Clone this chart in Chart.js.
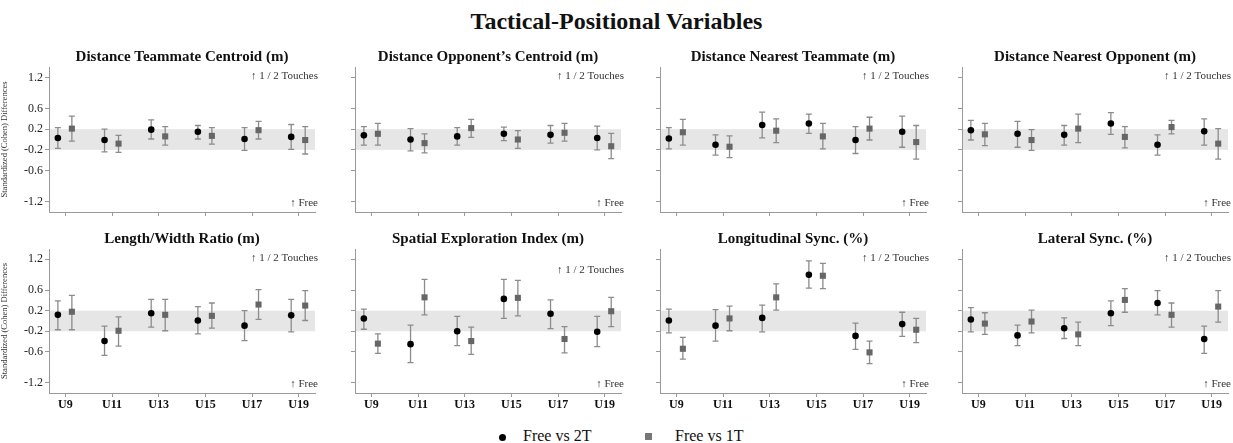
<!DOCTYPE html>
<html>
<head>
<meta charset="utf-8">
<script src="https://cdn.jsdelivr.net/npm/chart.js@4.4.1/dist/chart.umd.min.js"></script>
<style>
  html, body { margin:0; padding:0; background:#fff; }
  body { width:1233px; height:443px; position:relative; overflow:hidden; font-family:"Liberation Serif","Times New Roman",serif; }
  #title { position:absolute; left:0; width:1233px; top:6px; text-align:center; font-weight:bold; font-size:24px; color:#111; line-height:30px; }
  .pc { position:absolute; }
  #legend { position:absolute; top:426px; left:0; width:1233px; height:20px; font-size:16px; color:#111; }
  .lg { position:absolute; top:0; line-height:20px; }
  .dot { position:absolute; width:7px; height:7px; border-radius:50%; background:#000; }
  .sq { position:absolute; width:7px; height:7px; background:#777; }
</style>
</head>
<body>
<div id="title">Tactical-Positional Variables</div>
<div id="legend">
  <span class="dot" style="left:499px; top:8px;"></span><span class="lg" style="left:523px;">Free vs 2T</span>
  <span class="sq" style="left:645px; top:7px;"></span><span class="lg" style="left:675px;">Free vs 1T</span>
</div>
<script>
// ---- Data: [mean, lower, upper] for each age category ----
const categories = ["U9","U11","U13","U15","U17","U19"];
const yTickValues = [-1.2,-0.6,-0.2,0.2,0.6,1.2];
const panelTitles = ["Distance Teammate Centroid (m)","Distance Opponent’s Centroid (m)","Distance Nearest Teammate (m)","Distance Nearest Opponent (m)",
                     "Length/Width Ratio (m)","Spatial Exploration Index (m)","Longitudinal Sync. (%)","Lateral Sync. (%)"];
const seriesNames = ["Free vs 2T","Free vs 1T"];

const teammateCentroid2T = [[0.03,-0.17,0.23],[-0.01,-0.24,0.20],[0.19,0.01,0.38],[0.15,0.01,0.27],[0.01,-0.21,0.23],[0.05,-0.19,0.29]];
const teammateCentroid1T = [[0.21,-0.03,0.45],[-0.08,-0.25,0.08],[0.06,-0.11,0.25],[0.07,-0.09,0.23],[0.18,0.01,0.35],[-0.01,-0.28,0.25]];
const opponentCentroid2T = [[0.08,-0.11,0.25],[0.00,-0.22,0.21],[0.06,-0.11,0.23],[0.11,-0.02,0.24],[0.09,-0.07,0.27],[0.03,-0.20,0.26]];
const opponentCentroid1T = [[0.11,-0.11,0.31],[-0.07,-0.26,0.11],[0.22,0.04,0.39],[0.00,-0.17,0.17],[0.13,-0.03,0.31],[-0.13,-0.37,0.12]];
const nearestTeammate2T = [[0.02,-0.18,0.23],[-0.10,-0.30,0.09],[0.28,0.03,0.53],[0.31,0.12,0.49],[-0.01,-0.27,0.25],[0.15,-0.15,0.45]];
const nearestTeammate1T = [[0.14,-0.11,0.39],[-0.14,-0.35,0.07],[0.17,-0.06,0.40],[0.06,-0.18,0.31],[0.21,-0.01,0.43],[-0.05,-0.38,0.27]];
const nearestOpponent2T = [[0.18,-0.01,0.37],[0.11,-0.15,0.35],[0.09,-0.11,0.27],[0.31,0.10,0.52],[-0.10,-0.30,0.09],[0.16,-0.11,0.40]];
const nearestOpponent1T = [[0.10,-0.12,0.31],[-0.01,-0.21,0.19],[0.21,-0.06,0.49],[0.05,-0.16,0.25],[0.24,0.11,0.37],[-0.08,-0.38,0.21]];
const lengthWidth2T = [[0.12,-0.17,0.39],[-0.39,-0.67,-0.10],[0.15,-0.12,0.42],[0.01,-0.25,0.28],[-0.09,-0.38,0.20],[0.11,-0.21,0.42]];
const lengthWidth1T = [[0.18,-0.17,0.50],[-0.19,-0.49,0.08],[0.12,-0.19,0.42],[0.10,-0.14,0.35],[0.32,0.03,0.61],[0.30,0.01,0.59]];
const spatialExploration2T = [[0.05,-0.16,0.23],[-0.45,-0.81,-0.08],[-0.20,-0.48,0.09],[0.43,0.05,0.81],[0.14,-0.15,0.41],[-0.21,-0.50,0.09]];
const spatialExploration1T = [[-0.44,-0.63,-0.25],[0.46,0.12,0.81],[-0.39,-0.65,-0.12],[0.45,0.10,0.79],[-0.35,-0.62,-0.11],[0.19,-0.11,0.46]];
const longitudinalSync2T = [[0.01,-0.23,0.23],[-0.09,-0.39,0.22],[0.06,-0.21,0.31],[0.90,0.64,1.17],[-0.29,-0.55,-0.04],[-0.06,-0.30,0.17]];
const longitudinalSync1T = [[-0.54,-0.74,-0.32],[0.05,-0.19,0.29],[0.46,0.21,0.72],[0.88,0.63,1.12],[-0.61,-0.83,-0.39],[-0.17,-0.42,0.05]];
const lateralSync2T = [[0.03,-0.21,0.26],[-0.28,-0.48,-0.08],[-0.14,-0.34,0.06],[0.15,-0.09,0.39],[0.35,0.12,0.59],[-0.35,-0.63,-0.10]];
const lateralSync1T = [[-0.05,-0.26,0.16],[-0.01,-0.23,0.21],[-0.26,-0.48,-0.02],[0.41,0.17,0.63],[0.12,-0.12,0.35],[0.28,-0.02,0.59]];

const panelData = [
  [teammateCentroid2T, teammateCentroid1T],
  [opponentCentroid2T, opponentCentroid1T],
  [nearestTeammate2T, nearestTeammate1T],
  [nearestOpponent2T, nearestOpponent1T],
  [lengthWidth2T, lengthWidth1T],
  [spatialExploration2T, spatialExploration1T],
  [longitudinalSync2T, longitudinalSync1T],
  [lateralSync2T, lateralSync1T]
];

// ---- Layout ----
const plotLefts = [49, 355, 660, 962];
const plotW = 266, yAxisW = 49, rightPad = 6;
const rows = [
  {canvasTop:38, height:188, padTop:29, xAxisH:14, showX:false},
  {canvasTop:220, height:200, padTop:29, xAxisH:27, showX:true}
];
const dodge = [-0.16, 0.14];
const SERIF = "'Liberation Serif','Times New Roman',serif";
const AXIS = "#9a9a9a";

const panelPlugin = {
  id: 'panelDecor',
  beforeDatasetsDraw(chart) {
    const {ctx, chartArea:a, scales:{x, y}} = chart;
    ctx.save();
    ctx.fillStyle = '#e6e6e6';
    const t = y.getPixelForValue(0.2), b = y.getPixelForValue(-0.2);
    ctx.fillRect(a.left + 1, t, a.right - a.left - 1, b - t);
    // error bars
    ctx.strokeStyle = '#8c8c8c';
    ctx.lineWidth = 1.3;
    chart.data.datasets.forEach(ds => {
      ds.data.forEach(p => {
        const px = x.getPixelForValue(p.x);
        const pl = y.getPixelForValue(p.lo), ph = y.getPixelForValue(p.hi);
        ctx.beginPath();
        ctx.moveTo(px, pl); ctx.lineTo(px, ph);
        ctx.moveTo(px - 3, pl); ctx.lineTo(px + 3, pl);
        ctx.moveTo(px - 3, ph); ctx.lineTo(px + 3, ph);
        ctx.stroke();
      });
    });
    ctx.restore();
  },
  afterDraw(chart) {
    const {ctx, chartArea:a} = chart;
    const o = chart.options.plugins.panelDecor;
    ctx.save();
    ctx.fillStyle = '#111';
    ctx.font = "bold 15px " + SERIF;
    ctx.textAlign = 'center';
    ctx.textBaseline = 'middle';
    ctx.fillText(o.title, (a.left + a.right) / 2, a.top - 10);
    ctx.fillStyle = '#333';
    ctx.font = "11px " + SERIF;
    ctx.textAlign = 'right';
    ctx.fillText("↑ 1 / 2 Touches", a.right + 3, a.top + o.topLabelOffset);
    ctx.fillText("↑ Free", a.right + 3, a.bottom - 9);
    ctx.restore();
  }
};

panelData.forEach((series, idx) => {
  const row = rows[Math.floor(idx / 4)];
  const col = idx % 4;
  const div = document.createElement('div');
  div.className = 'pc';
  const cw = yAxisW + plotW + rightPad;
  div.style.left = (plotLefts[col] - yAxisW) + 'px';
  div.style.top = row.canvasTop + 'px';
  div.style.width = cw + 'px';
  div.style.height = row.height + 'px';
  const cv = document.createElement('canvas');
  cv.width = cw; cv.height = row.height;
  cv.style.width = cw + 'px'; cv.style.height = row.height + 'px';
  div.appendChild(cv);
  document.body.appendChild(div);

  const datasets = series.map((arr, s) => ({
    label: seriesNames[s],
    data: arr.map((v, i) => ({x: i + 1 + dodge[s], y: v[0], lo: v[1], hi: v[2]})),
    pointStyle: s === 0 ? 'circle' : 'rect',
    pointRadius: s === 0 ? 3.3 : 4.3,
    pointBackgroundColor: s === 0 ? '#000' : '#666',
    pointBorderColor: s === 0 ? '#000' : '#666',
    pointBorderWidth: 0,
    showLine: false
  }));

  new Chart(cv, {
    type: 'scatter',
    data: { datasets },
    plugins: [panelPlugin],
    options: {
      responsive: false,
      animation: false,
      devicePixelRatio: 1,
      layout: { padding: {top: row.padTop, left: 0, right: rightPad, bottom: 0}, autoPadding: false },
      plugins: {
        legend: {display: false},
        tooltip: {enabled: false},
        panelDecor: { title: panelTitles[idx], topLabelOffset: idx === 5 ? 21 : 9 }
      },
      scales: {
        x: {
          type: 'linear', min: 0.65, max: 6.35,
          afterBuildTicks: sc => { sc.ticks = categories.map((c, i) => ({value: i + 1})); },
          afterFit: sc => { sc.height = row.xAxisH; },
          grid: { drawOnChartArea: false, drawTicks: true, tickLength: 4, color: AXIS },
          border: { color: AXIS, width: 1 },
          ticks: {
            autoSkip: false, maxRotation: 0, padding: 1,
            font: {family: SERIF, size: 12, weight: 'bold'}, color: '#111',
            callback: v => row.showX ? categories[Math.round(v) - 1] : ''
          }
        },
        y: {
          min: -1.4, max: 1.4,
          afterBuildTicks: sc => { sc.ticks = yTickValues.map(v => ({value: v})); },
          afterFit: sc => { sc.width = yAxisW; },
          grid: { drawOnChartArea: false, drawTicks: true, tickLength: 4, color: AXIS },
          border: { color: AXIS, width: 1 },
          ticks: {
            padding: 2,
            font: {family: SERIF, size: 12}, color: '#222',
            callback: v => col === 0 ? String(v) : ''
          },
          title: {
            display: col === 0,
            text: 'Standardized (Cohen) Differences',
            font: {family: SERIF, size: 8.5}, color: '#333', padding: {top: 0, bottom: 0}
          }
        }
      }
    }
  });
});
</script>
</body>
</html>
